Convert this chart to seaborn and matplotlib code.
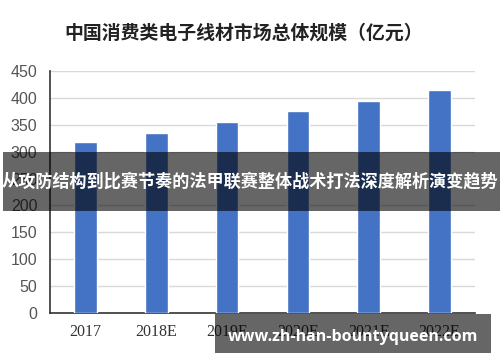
import matplotlib
matplotlib.use("Agg")
import matplotlib.pyplot as plt
import seaborn as sns
import pandas as pd
from matplotlib.patches import Rectangle

categories = ["2017", "2018E", "2019E", "2020E", "2021E", "2022E"]
values = [318, 336, 356, 377, 394, 415]
yticks = [0, 50, 100, 150, 200, 250, 300, 350, 400, 450]
title = "中国消费类电子线材市场总体规模（亿元）"
banner = "从攻防结构到比赛节奏的法甲联赛整体战术打法深度解析演变趋势"
watermark = "www.zh-han-bountyqueen.com"

sns.set_theme(style="white")
plt.rcParams['font.family'] = ['Noto Sans CJK SC', 'DejaVu Sans']

df = pd.DataFrame({"year": categories, "value": values})

fig = plt.figure(figsize=(5, 3.62), dpi=100)
fig.patch.set_facecolor("white")
ax = fig.add_axes([0.1, 0.1367, 0.85, 0.6658])

sns.barplot(data=df, x="year", y="value", color="#4472C4", width=0.32,
            saturation=1, ax=ax, zorder=3)

ax.set_ylim(0, 450)
ax.set_yticks(yticks)
ax.set_yticklabels([str(t) for t in yticks], fontfamily="Liberation Sans",
                   fontsize=11.5, color="#555555")
ax.set_xticks(range(len(categories)))
ax.set_xticklabels(categories, fontfamily="Liberation Serif", fontsize=11.5,
                   color="#333333")
ax.tick_params(axis="both", length=0)
ax.tick_params(axis="y", pad=9)
ax.tick_params(axis="x", pad=8)
ax.set_xlabel("")
ax.set_ylabel("")
ax.grid(axis="y", color="#d9d9d9", linewidth=1, zorder=0)
ax.set_axisbelow(True)
for s in ["top", "right"]:
    ax.spines[s].set_visible(False)
for s in ["left", "bottom"]:
    ax.spines[s].set_color("#333333")
    ax.spines[s].set_linewidth(1.2)

fig.text(0.488, 1 - 33 / 362, title, ha="center", va="center",
         fontsize=13.6, fontweight="bold", color="#222222",
         family=['Noto Sans CJK SC', 'DejaVu Sans'])

# overlay banner
fig.add_artist(Rectangle((3 / 500, 1 - 210.7 / 362), 497 / 500, 59 / 362,
                         transform=fig.transFigure, facecolor="black",
                         alpha=0.6, edgecolor="none", zorder=5))
fig.text(0.5, 1 - 181 / 362, banner, ha="center", va="center",
         fontsize=12.3, fontweight="bold", color="white", zorder=6,
         family=['Noto Sans CJK SC', 'DejaVu Sans'])

# watermark box
fig.add_artist(Rectangle((215 / 500, 1 - 352.7 / 362), 276 / 500, 38.7 / 362,
                         transform=fig.transFigure, facecolor="black",
                         alpha=0.6, edgecolor="none", zorder=5))
fig.text(353 / 500, 1 - 337 / 362, watermark, ha="center", va="center",
         fontsize=11.5, fontweight="bold", color="white", zorder=6,
         family=['Open Sans', 'DejaVu Sans'])

fig.savefig("out.png", dpi=100, facecolor="white")
